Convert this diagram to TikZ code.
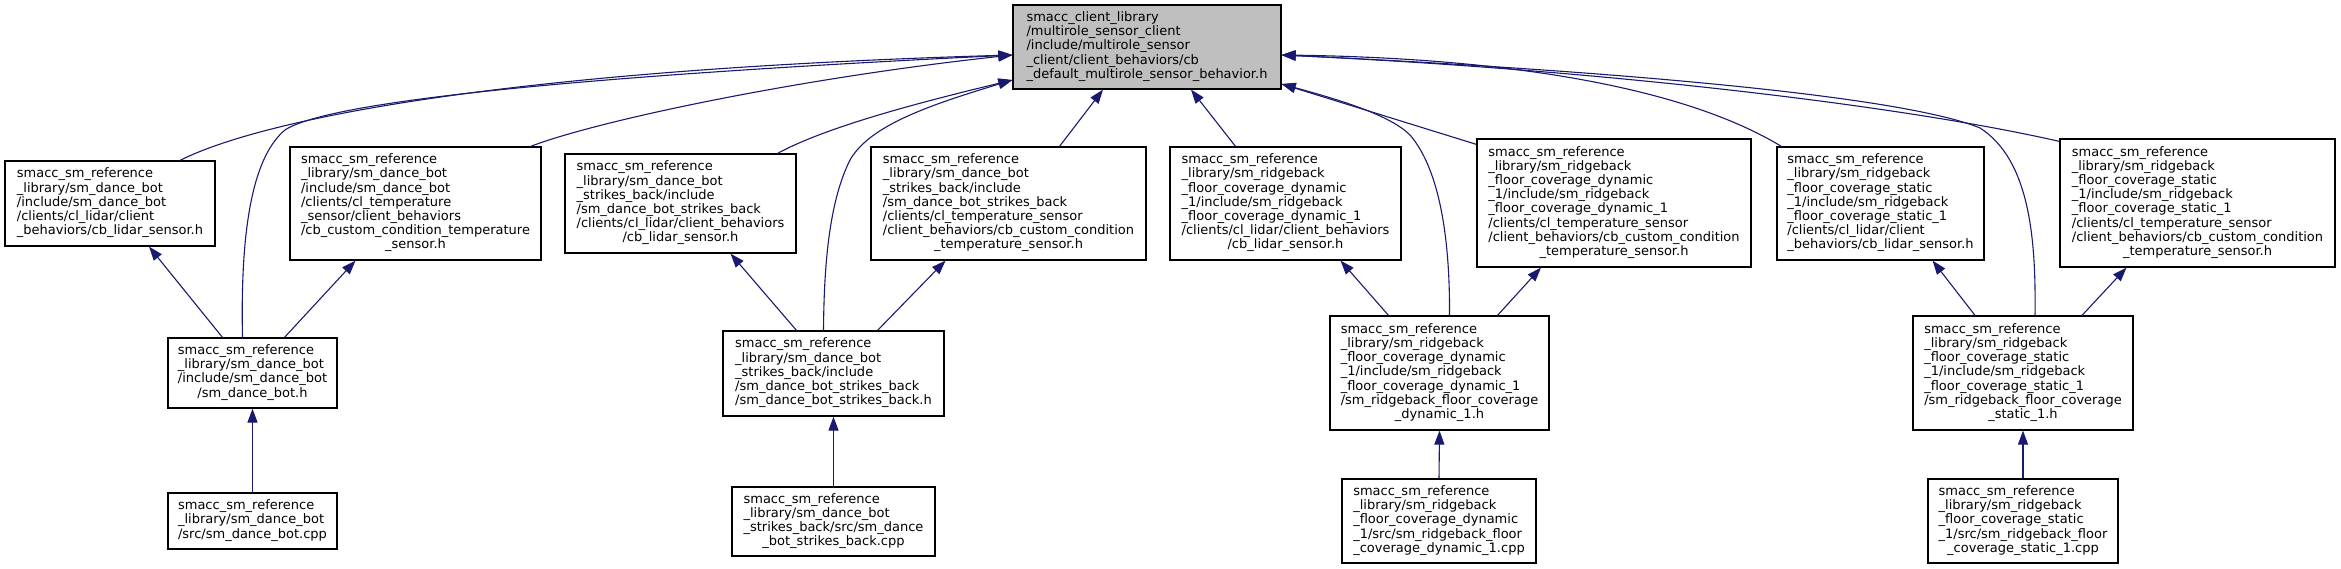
\documentclass[tikz,border=0pt]{standalone}
\usepackage{fontspec}
\setmainfont{DejaVu Sans}
\usetikzlibrary{arrows.meta,calc}
\definecolor{edgeblue}{HTML}{191970}
\definecolor{rootgray}{HTML}{BFBFBF}
\newcommand{\blk}[2]{\begin{tabular}{@{}l@{}}#1\\\multicolumn{1}{@{}c@{}}{#2}\end{tabular}}
\begin{document}
\begin{tikzpicture}[x=1pt,y=-1pt,
  box/.style 2 args={rectangle,draw=black,line width=1.2pt,fill=white,inner sep=0pt,
    minimum width=#1pt,minimum height=#2pt,font=\fontsize{13}{14.2}\selectfont},
  rootbox/.style={fill=rootgray},
  conn/.style={draw=edgeblue,line width=1.1pt,-{Triangle[length=14pt,width=10pt]}}]
\useasboundingbox (0,0) rectangle (2341,569);
% level 0
\node[box={268}{84},rootbox] (root) at (1147,47) {\blk{smacc\_client\_library\\/multirole\_sensor\_client\\/include/multirole\_sensor\\\_client/client\_behaviors/cb}{\_default\_multirole\_sensor\_behavior.h}};
% level 1
\node[box={210}{85}] (A) at (110,203.5) {\blk{smacc\_sm\_reference\\\_library/sm\_dance\_bot\\/include/sm\_dance\_bot\\/clients/cl\_lidar/client}{\_behaviors/cb\_lidar\_sensor.h}};
\node[box={251}{113}] (B) at (415.5,203.5) {\blk{smacc\_sm\_reference\\\_library/sm\_dance\_bot\\/include/sm\_dance\_bot\\/clients/cl\_temperature\\\_sensor/client\_behaviors\\/cb\_custom\_condition\_temperature}{\_sensor.h}};
\node[box={231}{99}] (C) at (680.5,203.5) {\blk{smacc\_sm\_reference\\\_library/sm\_dance\_bot\\\_strikes\_back/include\\/sm\_dance\_bot\_strikes\_back\\/clients/cl\_lidar/client\_behaviors}{/cb\_lidar\_sensor.h}};
\node[box={275}{113}] (D) at (1008.5,203.5) {\blk{smacc\_sm\_reference\\\_library/sm\_dance\_bot\\\_strikes\_back/include\\/sm\_dance\_bot\_strikes\_back\\/clients/cl\_temperature\_sensor\\/client\_behaviors/cb\_custom\_condition}{\_temperature\_sensor.h}};
\node[box={231}{113}] (E) at (1285.5,203.5) {\blk{smacc\_sm\_reference\\\_library/sm\_ridgeback\\\_floor\_coverage\_dynamic\\\_1/include/sm\_ridgeback\\\_floor\_coverage\_dynamic\_1\\/clients/cl\_lidar/client\_behaviors}{/cb\_lidar\_sensor.h}};
\node[box={274}{128}] (F) at (1614,203) {\blk{smacc\_sm\_reference\\\_library/sm\_ridgeback\\\_floor\_coverage\_dynamic\\\_1/include/sm\_ridgeback\\\_floor\_coverage\_dynamic\_1\\/clients/cl\_temperature\_sensor\\/client\_behaviors/cb\_custom\_condition}{\_temperature\_sensor.h}};
\node[box={207}{113}] (G) at (1880.5,203.5) {\blk{smacc\_sm\_reference\\\_library/sm\_ridgeback\\\_floor\_coverage\_static\\\_1/include/sm\_ridgeback\\\_floor\_coverage\_static\_1\\/clients/cl\_lidar/client}{\_behaviors/cb\_lidar\_sensor.h}};
\node[box={275}{128}] (H) at (2197.5,203) {\blk{smacc\_sm\_reference\\\_library/sm\_ridgeback\\\_floor\_coverage\_static\\\_1/include/sm\_ridgeback\\\_floor\_coverage\_static\_1\\/clients/cl\_temperature\_sensor\\/client\_behaviors/cb\_custom\_condition}{\_temperature\_sensor.h}};
% level 2
\node[box={169}{70}] (I) at (252.5,373) {\blk{smacc\_sm\_reference\\\_library/sm\_dance\_bot\\/include/sm\_dance\_bot}{/sm\_dance\_bot.h}};
\node[box={221}{85}] (K) at (833.5,373.5) {\blk{smacc\_sm\_reference\\\_library/sm\_dance\_bot\\\_strikes\_back/include\\/sm\_dance\_bot\_strikes\_back}{/sm\_dance\_bot\_strikes\_back.h}};
\node[box={219}{114}] (M) at (1439.5,373) {\blk{smacc\_sm\_reference\\\_library/sm\_ridgeback\\\_floor\_coverage\_dynamic\\\_1/include/sm\_ridgeback\\\_floor\_coverage\_dynamic\_1\\/sm\_ridgeback\_floor\_coverage}{\_dynamic\_1.h}};
\node[box={220}{114}] (O) at (2023,373) {\blk{smacc\_sm\_reference\\\_library/sm\_ridgeback\\\_floor\_coverage\_static\\\_1/include/sm\_ridgeback\\\_floor\_coverage\_static\_1\\/sm\_ridgeback\_floor\_coverage}{\_static\_1.h}};
% level 3
\node[box={169}{56}] (J) at (252.5,521) {\blk{smacc\_sm\_reference\\\_library/sm\_dance\_bot}{/src/sm\_dance\_bot.cpp}};
\node[box={203}{69}] (L) at (833.5,521.5) {\blk{smacc\_sm\_reference\\\_library/sm\_dance\_bot\\\_strikes\_back/src/sm\_dance}{\_bot\_strikes\_back.cpp}};
\node[box={194}{84}] (N) at (1439,521) {\blk{smacc\_sm\_reference\\\_library/sm\_ridgeback\\\_floor\_coverage\_dynamic\\\_1/src/sm\_ridgeback\_floor}{\_coverage\_dynamic\_1.cpp}};
\node[box={190}{84}] (P) at (2023,521) {\blk{smacc\_sm\_reference\\\_library/sm\_ridgeback\\\_floor\_coverage\_static\\\_1/src/sm\_ridgeback\_floor}{\_coverage\_static\_1.cpp}};
% attachment points on the root
\coordinate (rL1) at ($(root.west)+(0,8)$);
\coordinate (rL2) at ($(root.west)+(0,33)$);
\coordinate (rB1) at ($(root.south)+(-44,0)$);
\coordinate (rB2) at ($(root.south)+(44,0)$);
\coordinate (rR1) at ($(root.east)+(0,8)$);
\coordinate (rR2) at ($(root.east)+(0,37)$);
% edges to root
\draw[conn] ($(A.north)+(70,0)$) .. controls (260,120) and (500,70) .. (rL1);
\draw[conn] ($(I.north)+(-10,0)$) .. controls (240,220) and (255,155) .. (285,130) .. controls (330,100) and (600,75) .. (rL1);
\draw[conn] ($(B.north)+(115,0)$) .. controls (600,120) and (800,78) .. (rL1);
\draw[conn] ($(C.north)+(97,0)$) .. controls (830,125) and (930,100) .. (rL2);
\draw[conn] ($(K.north)+(-10,0)$) .. controls (824,260) and (830,200) .. (850,160) .. controls (870,125) and (930,105) .. (rL2);
\draw[conn] ($(D.north)+(51,0)$) -- (rB1);
\draw[conn] ($(E.north)+(-50,0)$) -- (rB2);
\draw[conn] ($(M.north)+(10,0)$) .. controls (1450,240) and (1440,170) .. (1410,135) .. controls (1390,115) and (1340,100) .. (rR2);
\draw[conn] ($(F.north west)+(0,6)$) -- (rR2);
\draw[conn] ($(G.north west)+(5,0)$) .. controls (1680,85) and (1500,58) .. (rR1);
\draw[conn] ($(O.north)+(12,0)$) .. controls (2036,240) and (2030,160) .. (1980,128) .. controls (1900,95) and (1600,70) .. (rR1);
\draw[conn] ($(H.north west)+(0,3)$) .. controls (1900,105) and (1600,70) .. (rR1);
% level 2 to level 1
\draw[conn] ($(I.north)+(-30,0)$) -- ($(A.south)+(39,0)$);
\draw[conn] ($(I.north)+(32,0)$) -- ($(B.south)+(-60,0)$);
\draw[conn] ($(K.north)+(-37,0)$) -- ($(C.south)+(50,0)$);
\draw[conn] ($(K.north)+(44,0)$) -- ($(D.south)+(-63,0)$);
\draw[conn] ($(M.north)+(-51,0)$) -- ($(E.south)+(55,0)$);
\draw[conn] ($(M.north)+(58,0)$) -- ($(F.south)+(-73,0)$);
\draw[conn] ($(O.north)+(-48,0)$) -- ($(G.south)+(52,0)$);
\draw[conn] ($(O.north)+(59,0)$) -- ($(H.south)+(-71,0)$);
% level 3 to level 2
\draw[conn] (J.north) -- (I.south);
\draw[conn] (L.north) -- (K.south);
\draw[conn] (N.north) -- (M.south);
\draw[conn] (P.north) -- (O.south);
\end{tikzpicture}
\end{document}
